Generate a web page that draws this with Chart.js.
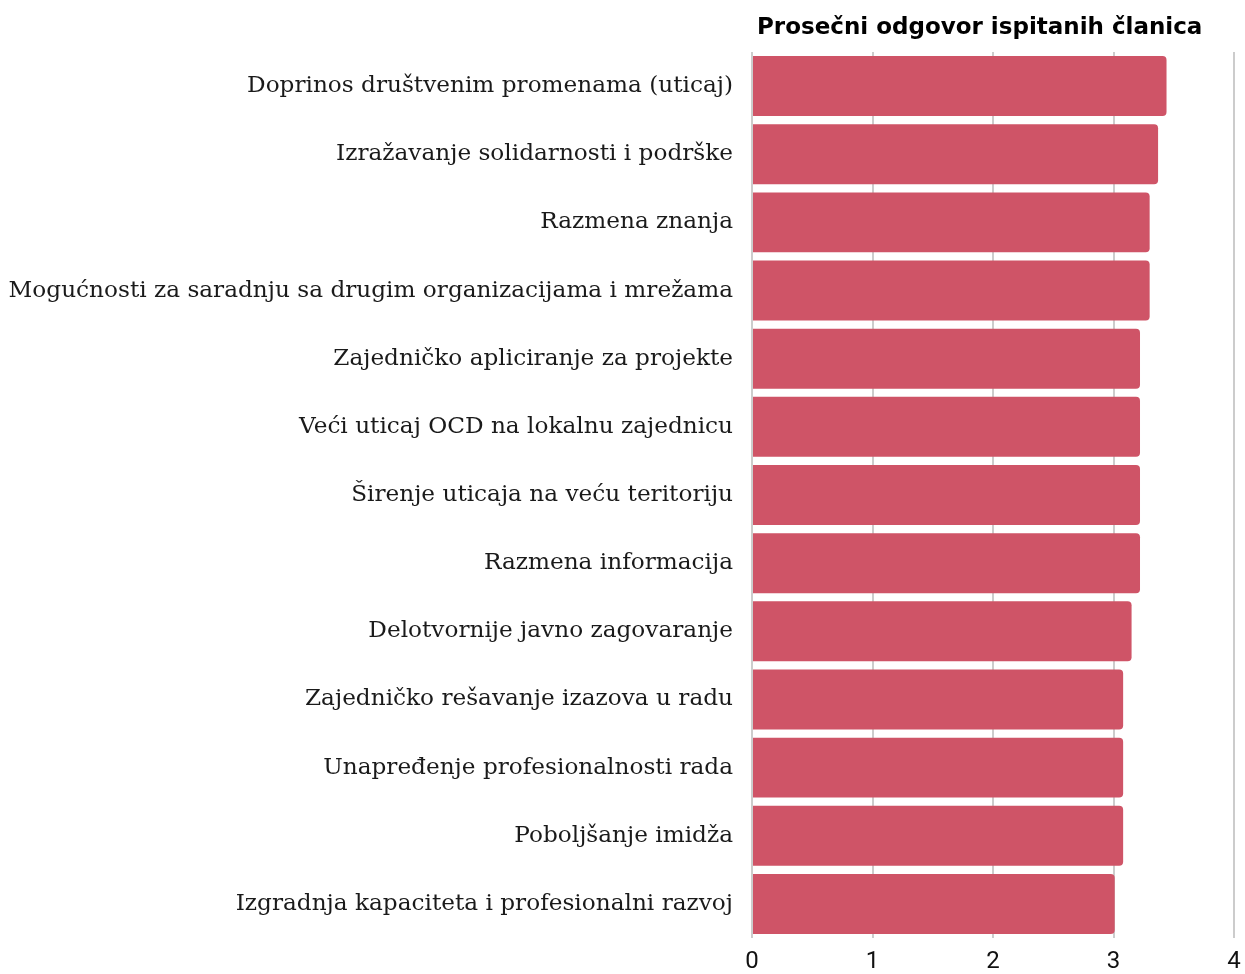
<!DOCTYPE html>
<html>
<head>
<meta charset="utf-8">
<script src="https://cdn.jsdelivr.net/npm/chart.js@4"></script>
<style>
html,body{margin:0;padding:0;background:#fff;}
#wrap{width:1245px;height:974px;position:relative;}
</style>
</head>
<body>
<div id="wrap"><canvas id="c" width="1245" height="974"></canvas></div>
<script>
const categories = [
  "Doprinos društvenim promenama (uticaj)",
  "Izražavanje solidarnosti i podrške",
  "Razmena znanja",
  "Mogućnosti za saradnju sa drugim organizacijama i mrežama",
  "Zajedničko apliciranje za projekte",
  "Veći uticaj OCD na lokalnu zajednicu",
  "Širenje uticaja na veću teritoriju",
  "Razmena informacija",
  "Delotvornije javno zagovaranje",
  "Zajedničko rešavanje izazova u radu",
  "Unapređenje profesionalnosti rada",
  "Poboljšanje imidža",
  "Izgradnja kapaciteta i profesionalni razvoj"
];
const averages = [3.44, 3.37, 3.30, 3.30, 3.22, 3.22, 3.22, 3.22, 3.15, 3.08, 3.08, 3.08, 3.01];
const xTicks = [0, 1, 2, 3, 4];
const titleText = "Prosečni odgovor ispitanih članica";

const titlePlugin = {
  id: 'topTitle',
  afterDraw(chart) {
    const ctx = chart.ctx, a = chart.chartArea;
    ctx.save();
    ctx.font = "bold 23px 'DejaVu Sans', sans-serif";
    ctx.fillStyle = '#000';
    ctx.textAlign = 'left';
    ctx.textBaseline = 'middle';
    ctx.fillText(titleText, a.left + 5, 28);
    ctx.restore();
  }
};

new Chart(document.getElementById('c'), {
  type: 'bar',
  data: {
    labels: categories,
    datasets: [{
      data: averages,
      backgroundColor: '#CF5467',
      borderWidth: 0,
      borderRadius: {topRight: 4, bottomRight: 4, topLeft: 0, bottomLeft: 0},
      borderSkipped: false,
      categoryPercentage: 0.88,
      barPercentage: 1.0
    }]
  },
  options: {
    indexAxis: 'y',
    responsive: false,
    animation: false,
    devicePixelRatio: 1,
    layout: {padding: {top: 52, right: 11, left: 0, bottom: 0}},
    plugins: {legend: {display: false}, title: {display: false}, tooltip: {enabled: false}},
    scales: {
      x: {
        min: 0, max: 4,
        afterBuildTicks(scale) { scale.ticks = xTicks.map(v => ({value: v})); },
        afterFit(scale) { scale.height = 36; scale.paddingRight = 0; scale.paddingLeft = 0; },
        grid: {color: '#cccccc', lineWidth: 2, drawTicks: false},
        border: {display: false},
        ticks: {padding: 10, color: '#111', font: {family: "Roboto, 'Liberation Sans', sans-serif", size: 24}}
      },
      y: {
        afterFit(scale) { scale.width = 752; scale.paddingTop = 0; scale.paddingBottom = 0; },
        grid: {display: false, drawTicks: false},
        border: {display: false},
        ticks: {padding: 19, color: '#1a1a1a', font: {family: "'DejaVu Serif', serif", size: 23.2}}
      }
    }
  },
  plugins: [titlePlugin]
});
</script>
</body>
</html>
